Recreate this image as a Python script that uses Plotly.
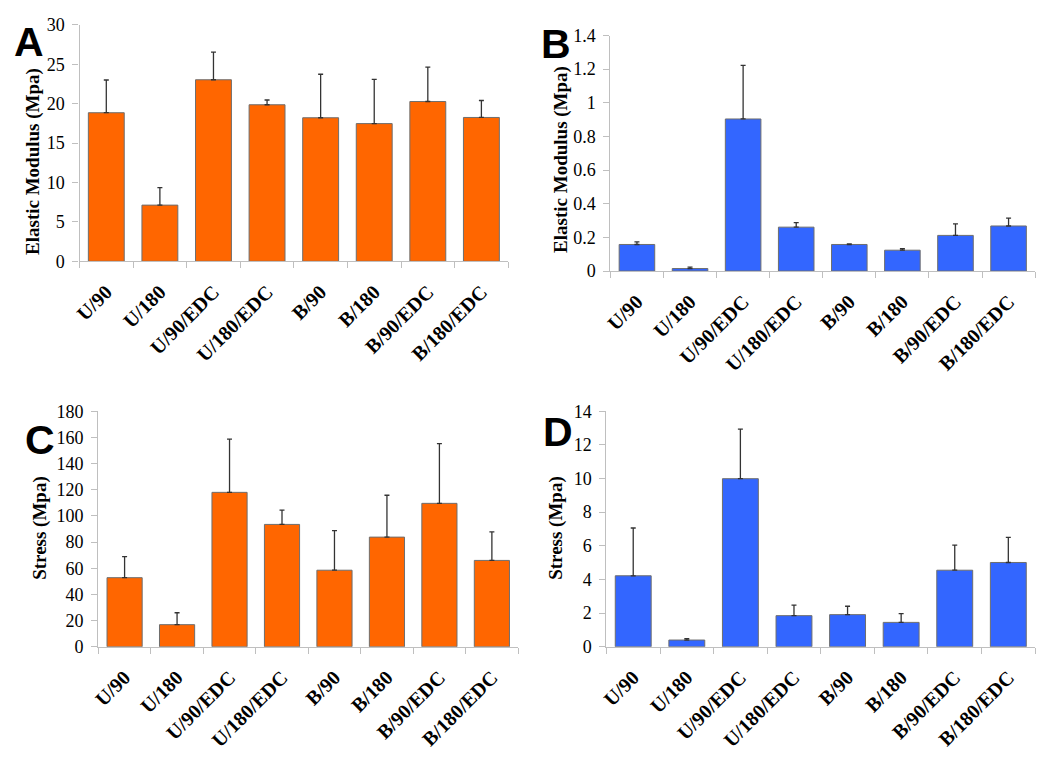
import plotly.graph_objects as go

categories = ["U/90", "U/180", "U/90/EDC", "U/180/EDC", "B/90", "B/180", "B/90/EDC", "B/180/EDC"]

# Panel A: Elastic modulus (orange)
a_vals = [18.85, 7.13, 23.03, 19.86, 18.21, 17.47, 20.27, 18.25]
a_err = [4.15, 2.22, 3.50, 0.60, 5.52, 5.60, 4.37, 2.15]
# Panel B: Elastic modulus (blue)
b_vals = [0.158, 0.015, 0.904, 0.261, 0.158, 0.124, 0.212, 0.268]
b_err = [0.016, 0.008, 0.318, 0.027, 0.004, 0.009, 0.068, 0.047]
# Panel C: Stress (orange)
c_vals = [52.8, 16.9, 118.0, 93.5, 58.5, 83.8, 109.6, 66.0]
c_err = [16.1, 9.1, 40.7, 10.9, 30.3, 32.0, 45.6, 21.8]
# Panel D: Stress (blue)
d_vals = [4.22, 0.40, 9.99, 1.85, 1.91, 1.45, 4.55, 5.01]
d_err = [2.84, 0.08, 2.95, 0.62, 0.50, 0.52, 1.49, 1.49]

# page has an 8px body margin; figure fills the rest of the 1050x758 window
OFF = 8
W, H = 1050 - OFF, 758 - OFF
ORANGE = "#FF6600"
BLUE = "#3366FF"
AXIS = "#BFBFBF"
SERIF = "Liberation Serif"


def px(x):
    return (x - OFF) / W


def py(y):
    return 1 - (y - OFF) / H


panels = [
    dict(vals=a_vals, err=a_err, color=ORANGE, ymax=30, dtick=5,
         box=(72, 504, 15, 258), letter="A", lpos=(4, 33),
         ytitle="Elastic Modulus (Mpa)", tpos=(25, 155)),
    dict(vals=b_vals, err=b_err, color=BLUE, ymax=1.4, dtick=0.2,
         box=(607, 1035, 26, 268), letter="B", lpos=(535, 35),
         ytitle="Elastic Modulus (Mpa)", tpos=(557, 153)),
    dict(vals=c_vals, err=c_err, color=ORANGE, ymax=180, dtick=20,
         box=(91, 514, 412, 654), letter="C", lpos=(15, 442),
         ytitle="Stress (Mpa)", tpos=(32, 532)),
    dict(vals=d_vals, err=d_err, color=BLUE, ymax=14, dtick=2,
         box=(603, 1035, 412, 654), letter="D", lpos=(537, 433),
         ytitle="Stress (Mpa)", tpos=(552, 532)),
]

fig = go.Figure()
annotations = []
layout_axes = {}
for i, p in enumerate(panels):
    n = "" if i == 0 else str(i + 1)
    x0, x1, yt, yb = p["box"]
    fig.add_trace(go.Bar(
        x=categories, y=p["vals"],
        xaxis="x" + n, yaxis="y" + n,
        marker=dict(color=p["color"], line=dict(color="#6E6E6E", width=1)),
        error_y=dict(type="data", array=p["err"], symmetric=False,
                     arrayminus=[0] * len(p["err"]),
                     color="#333333", thickness=1.3, width=2.5),
        showlegend=False,
    ))
    layout_axes["xaxis" + n] = dict(
        domain=[px(x0), px(x1)], anchor="y" + n,
        type="category", range=[-0.5, 7.5],
        showline=True, linecolor=AXIS, linewidth=1.3,
        ticks="outside", tickson="boundaries", ticklen=6, tickcolor=AXIS, tickwidth=1.3,
        tickangle=-45, ticklabelstandoff=10, showgrid=False, zeroline=False,
        tickfont=dict(family=SERIF, size=20, color="black", weight="bold"),
    )
    layout_axes["yaxis" + n] = dict(
        domain=[py(yb), py(yt)], anchor="x" + n,
        range=[0, p["ymax"]], dtick=p["dtick"], tick0=0,
        showline=True, linecolor=AXIS, linewidth=1.3,
        ticks="outside", ticklen=6, tickcolor=AXIS, tickwidth=1.3,
        ticklabelstandoff=4, showgrid=False, zeroline=False,
        tickfont=dict(family=SERIF, size=18, color="black"),
    )
    annotations.append(dict(
        text=p["letter"], xref="paper", yref="paper",
        x=px(p["lpos"][0]), y=py(p["lpos"][1]),
        xanchor="left", yanchor="middle", showarrow=False,
        font=dict(family="Liberation Sans", size=41, color="black", weight="bold"),
    ))
    annotations.append(dict(
        text=p["ytitle"], xref="paper", yref="paper",
        x=px(p["tpos"][0]), y=py(p["tpos"][1]),
        xanchor="center", yanchor="middle", showarrow=False, textangle=-90,
        font=dict(family=SERIF, size=19, color="black", weight="bold"),
    ))

fig.update_layout(
    width=W, height=H,
    margin=dict(l=0, r=0, t=0, b=0),
    paper_bgcolor="white", plot_bgcolor="white",
    bargap=0.33,
    annotations=annotations,
    **layout_axes,
)

fig.write_html("out.html")
